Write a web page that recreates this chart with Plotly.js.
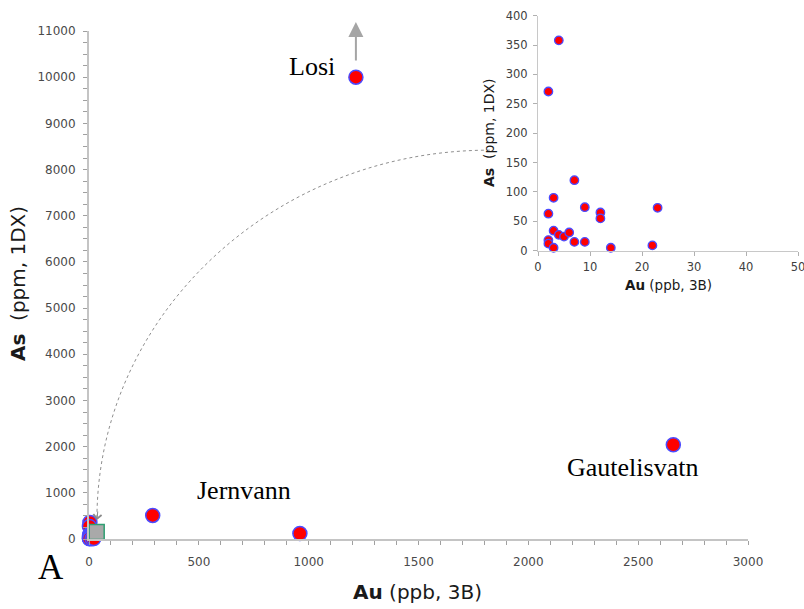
<!DOCTYPE html>
<html>
<head>
<meta charset="utf-8">
<script src="https://cdn.plot.ly/plotly-3.0.1.min.js"></script>
<style>html,body{margin:0;padding:0;background:#fff}#chart{width:804px;height:609px}</style>
</head>
<body>
<div id="chart"></div>
<script>
// ---- data ----
// low-concentration samples (shown in the inset, also near the origin of the main plot)
const smallAu = [4, 2, 7, 3, 9, 2, 12, 12, 23, 3, 4, 5, 6, 7, 9, 2, 2, 3, 14, 22];
const smallAs = [358, 271, 120, 90, 74, 63, 65, 55, 73, 34, 27, 24, 31, 15, 15, 18, 12, 5, 5, 9];
// high-concentration samples
const bigNames = ["Losi", "Jernvann", "", "Gautelisvatn"];
const bigAu = [1215, 290, 960, 2660];
const bigAs = [10000, 510, 120, 2040];
// grey box marking the zoomed region on the main plot
const zoomBoxAu = [35];
const zoomBoxAs = [150];
// curved link from the inset to the zoom box (main-axis data units)
const linkStart = [1825, 8420];
const linkEnd = [36, 411];
// arrow above Losi (value off the scale)
const losiArrowAs = [10330, 11195];

// tick labels
const mainXTicks = [0, 500, 1000, 1500, 2000, 2500, 3000];
const mainYTicks = [0,1000,2000,3000,4000,5000,6000,7000,8000,9000,10000,11000];
const insetXTicks = [0, 10, 20, 30, 40, 50];
const insetYTicks = [0, 50, 100, 150, 200, 250, 300, 350, 400];

const W = 804, H = 609;
const px = v => v / W;
const py = v => 1 - v / H;

const allAu = smallAu.concat(bigAu);
const allAs = smallAs.concat(bigAs);

const markerMain = {color: '#ff0000', size: 14, line: {color: '#4b4bff', width: 1.5}};
const markerInset = {color: '#ff0000', size: 8.5, line: {color: '#4b4bff', width: 1.3}};

const traces = [
  {type: 'scatter', mode: 'markers', x: allAu, y: allAs, xaxis: 'x', yaxis: 'y',
   marker: markerMain, cliponaxis: false, hoverinfo: 'x+y'},
  {type: 'scatter', mode: 'markers', x: zoomBoxAu, y: zoomBoxAs, xaxis: 'x', yaxis: 'y',
   marker: {symbol: 'square', size: 15, color: '#a9a9a9', line: {color: '#2f9f72', width: 1.5}},
   cliponaxis: false, hoverinfo: 'skip'},
  {type: 'scatter', mode: 'markers', x: smallAu, y: smallAs, xaxis: 'x2', yaxis: 'y2',
   marker: markerInset, cliponaxis: false}
];

const tickFontMain = {family: 'DejaVu Sans, Verdana, sans-serif', size: 12, color: '#4a4a4a'};
const tickFontInset = {family: 'DejaVu Sans, Verdana, sans-serif', size: 11.5, color: '#404040'};

// bezier approximating a quarter ellipse from linkStart to linkEnd
const k = 0.552;
const c1 = [linkStart[0] - k * (linkStart[0] - linkEnd[0]), linkStart[1]];
const c2 = [linkEnd[0], linkEnd[1] + k * (linkStart[1] - linkEnd[1])];
const linkPath = `M ${linkStart[0]},${linkStart[1]} C ${c1[0]},${c1[1]} ${c2[0]},${c2[1]} ${linkEnd[0]},${linkEnd[1]}`;

const serif = 'Liberation Serif, Times New Roman, serif';
const sans = 'DejaVu Sans, Verdana, sans-serif';

const labelPos = {Losi: [312, 67], Jernvann: [244, 490], Gautelisvatn: [632, 468]};

const annotations = [];
bigNames.forEach(n => {
  if (!n) return;
  annotations.push({xref: 'paper', yref: 'paper', x: px(labelPos[n][0]), y: py(labelPos[n][1]),
    xanchor: 'center', yanchor: 'middle', text: n, showarrow: false,
    font: {family: serif, size: 26, color: '#000'}});
});
annotations.push(
  {xref: 'paper', yref: 'paper', x: px(51), y: py(567), xanchor: 'center', yanchor: 'middle',
   text: 'A', showarrow: false, font: {family: serif, size: 35, color: '#000'}},
  // main axis titles
  {xref: 'paper', yref: 'paper', x: px(417), y: py(592), xanchor: 'center', yanchor: 'middle',
   text: '<b>Au</b> (ppb, 3B)', showarrow: false, font: {family: sans, size: 20, color: '#1a1a1a'}},
  {xref: 'paper', yref: 'paper', x: px(18), y: py(284), xanchor: 'center', yanchor: 'middle',
   text: '<b>As</b>\u00a0 (ppm, 1DX)', textangle: -90, showarrow: false,
   font: {family: sans, size: 20, color: '#1a1a1a'}},
  // inset axis titles
  {xref: 'paper', yref: 'paper', x: px(668), y: py(285), xanchor: 'center', yanchor: 'middle',
   text: '<b>Au</b> (ppb, 3B)', showarrow: false, font: {family: sans, size: 13.5, color: '#1a1a1a'}},
  {xref: 'paper', yref: 'paper', x: px(489), y: py(133), xanchor: 'center', yanchor: 'middle',
   text: '<b>As</b>\u00a0 (ppm, 1DX)', textangle: -90, showarrow: false,
   font: {family: sans, size: 14, color: '#1a1a1a'}},
  // Losi arrow
  {xref: 'x', yref: 'y', x: bigAu[0], y: losiArrowAs[1], axref: 'x', ayref: 'y',
   ax: bigAu[0], ay: losiArrowAs[0], text: '', showarrow: true, arrowhead: 2,
   arrowwidth: 2, arrowsize: 1.5, arrowcolor: '#a5a5a5'},
  // arrowhead of the curved link
  {xref: 'x', yref: 'y', x: linkEnd[0], y: linkEnd[1], ax: 1, ay: -10, text: '',
   showarrow: true, arrowhead: 4, arrowwidth: 1, arrowsize: 1.6, arrowcolor: '#8a8a8a'}
);

const layout = {
  width: W, height: H,
  margin: {l: 0, r: 0, t: 0, b: 0, pad: 0},
  paper_bgcolor: '#fff', plot_bgcolor: 'rgba(0,0,0,0)',
  showlegend: false,
  xaxis: {domain: [px(89), px(748)], range: [0, 3000], anchor: 'y',
    tickmode: 'array', tickvals: mainXTicks, ticktext: mainXTicks.map(String),
    ticks: 'outside', ticklen: 4, tickwidth: 1, tickcolor: '#a0a0a0',
    minor: {dtick: 100, tick0: 0, ticks: 'outside', ticklen: 4, tickcolor: '#a0a0a0', showgrid: false},
    showline: true, linecolor: '#c4c4c4', linewidth: 2, showgrid: false, zeroline: false,
    tickfont: tickFontMain, ticklabelstandoff: 7, automargin: false},
  yaxis: {domain: [py(539), py(31)], range: [0, 11000], anchor: 'x',
    tickmode: 'array', tickvals: mainYTicks, ticktext: mainYTicks.map(String),
    ticks: 'outside', ticklen: 4, tickwidth: 1, tickcolor: '#a0a0a0',
    minor: {dtick: 250, tick0: 0, ticks: 'outside', ticklen: 4, tickcolor: '#a0a0a0', showgrid: false},
    showline: true, linecolor: '#c4c4c4', linewidth: 2, showgrid: false, zeroline: false,
    tickfont: tickFontMain, ticklabelstandoff: 5, automargin: false},
  xaxis2: {domain: [px(538), px(798)], range: [0, 50], anchor: 'y2',
    tickmode: 'array', tickvals: insetXTicks, ticktext: insetXTicks.map(String),
    ticks: 'outside', ticklen: 4, tickcolor: '#b0b0b0',
    showline: true, linecolor: '#c8c8c8', linewidth: 1, showgrid: false, zeroline: false,
    tickfont: tickFontInset, ticklabelstandoff: 1, ticklabeloverflow: 'allow', automargin: false},
  yaxis2: {domain: [py(250.7), py(15.7)], range: [0, 400], anchor: 'x2',
    tickmode: 'array', tickvals: insetYTicks, ticktext: insetYTicks.map(String),
    ticks: 'outside', ticklen: 4, tickcolor: '#b0b0b0',
    showline: true, linecolor: '#c8c8c8', linewidth: 1, showgrid: false, zeroline: false,
    tickfont: tickFontInset, ticklabelstandoff: 3, automargin: false},
  shapes: [
    {type: 'path', xref: 'x', yref: 'y', path: linkPath, layer: 'above',
     line: {color: '#8f8f8f', width: 1, dash: 'dot'}}
  ],
  annotations: annotations
};

Plotly.newPlot('chart', traces, layout, {displayModeBar: false, staticPlot: true});
</script>
</body>
</html>
